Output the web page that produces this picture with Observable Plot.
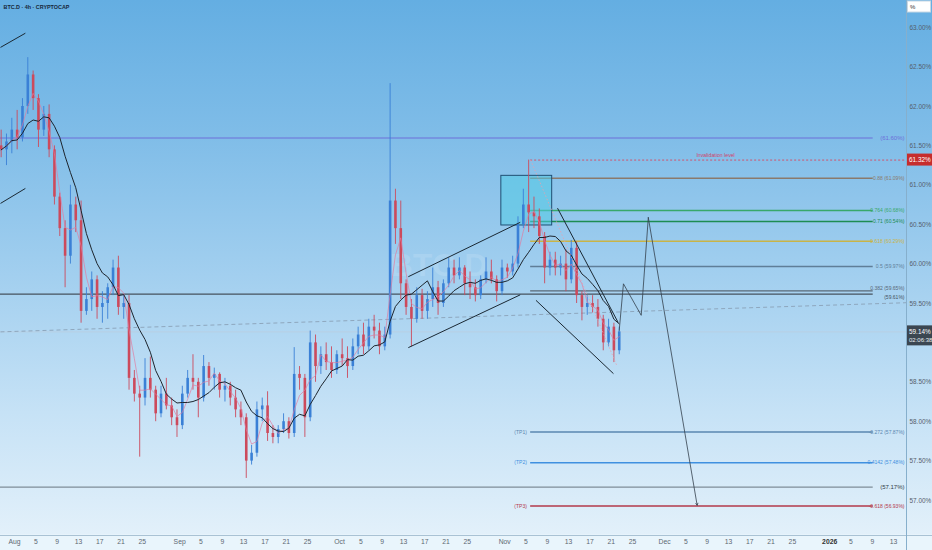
<!DOCTYPE html>
<html><head><meta charset="utf-8">
<script src="https://cdn.jsdelivr.net/npm/d3@7"></script>
<script src="https://cdn.jsdelivr.net/npm/@observablehq/plot@0.6"></script>
<style>
html,body{margin:0;padding:0;background:#e9f5fc;}
#chart{position:relative;width:932px;height:550px;overflow:hidden;}
svg{display:block;}
</style></head><body><div id="chart"></div>
<script>
// ---- Daily candles (BTC.D, %), Jul 29 2025 .. Nov 22 2025 ----
const firstDay = "2025-07-29T12:00:00Z";
const firstOpen = 61.50;
const closes = [61.45,61.55,61.70,
 61.60,62.00,62.40,62.10,61.70,61.90,61.45,60.85,60.45,60.10,60.75,60.55,59.40,59.55,59.80,59.45,59.50,59.70,59.95,59.45,59.50,58.55,58.35,58.30,58.55,58.40,58.10,58.35,58.20,58.05,57.95,
 58.35,58.55,58.50,58.30,58.70,58.55,58.60,58.40,58.45,58.30,58.15,58.05,57.50,57.60,58.15,58.20,57.85,57.80,57.90,58.00,57.85,58.60,58.55,58.05,59.00,58.70,58.85,58.75,58.65,58.85,
 58.80,58.70,58.95,59.10,58.95,59.20,59.15,58.95,59.10,60.80,60.45,59.75,59.45,59.30,59.60,59.40,59.55,59.70,59.50,59.75,59.95,59.85,59.95,59.75,59.70,59.60,59.80,59.90,59.80,59.65,59.95,
 59.90,60.00,60.50,60.75,60.65,60.60,60.35,59.95,60.05,59.95,60.00,59.80,60.20,59.60,59.45,59.50,59.45,59.30,59.00,59.20,58.90,59.14];
const highs = [61.70,61.65,61.85,
 61.95,62.10,62.62,62.45,62.15,62.00,62.02,61.50,60.90,60.55,61.00,60.85,60.80,59.70,59.90,59.85,59.65,59.75,60.05,60.10,59.60,59.60,58.65,58.45,58.80,58.82,58.45,58.45,58.55,58.30,58.15,
 58.45,58.65,58.85,58.55,58.84,58.75,58.68,58.62,58.55,58.50,58.40,58.25,58.10,57.70,58.25,58.30,58.38,57.95,57.95,58.10,58.05,58.94,58.70,58.60,59.15,59.10,58.95,59.00,58.95,58.90,
 59.05,58.95,59.05,59.20,59.25,59.30,59.35,59.25,59.20,62.29,60.95,60.80,59.80,59.55,59.70,59.68,59.65,59.95,59.78,59.80,60.08,60.05,60.08,59.98,59.90,59.80,59.85,60.08,60.05,59.85,60.05,
 60.00,60.10,60.60,60.95,61.32,60.85,60.70,60.40,60.15,60.15,60.10,60.18,60.30,60.28,59.65,59.60,59.60,59.55,59.35,59.30,59.25,59.20];
const lows = [61.35,61.25,61.40,
 61.45,61.55,61.90,61.95,61.48,61.62,61.35,60.75,60.35,59.70,60.00,60.40,59.25,59.35,59.40,59.30,59.25,59.30,59.60,59.35,59.30,58.40,58.25,57.55,58.20,58.30,58.00,58.05,58.15,57.95,57.80,
 57.90,58.30,58.40,58.05,58.25,58.45,58.40,58.30,58.25,58.20,58.05,57.95,57.28,57.45,57.55,58.00,57.75,57.72,57.72,57.85,57.78,57.80,58.40,57.80,58.00,58.50,58.60,58.65,58.55,58.60,
 58.70,58.55,58.65,58.85,58.85,58.90,59.05,58.85,58.90,59.05,60.25,59.55,59.35,58.95,59.25,59.30,59.30,59.45,59.35,59.45,59.70,59.75,59.80,59.60,59.55,59.52,59.55,59.75,59.75,59.52,59.60,
 59.82,59.85,59.95,60.45,60.40,60.45,60.25,59.75,59.85,59.85,59.85,59.65,59.75,59.50,59.28,59.35,59.38,59.20,58.90,58.95,58.75,58.85];

// ---- Axes ----
const xDomain = ["2025-07-29T09:00:00Z", "2026-01-15T10:00:00Z"];
const yDomain = [56.556, 63.345];
const yTicks = [57, 57.5, 58, 58.5, 59.5, 60, 60.5, 61, 61.5, 62, 62.5, 63];
const tickMonths = ["2025-08-01","2025-09-01","2025-10-01","2025-11-01","2025-12-01","2026-01-01"];
const tickDays = [5, 9, 13, 17, 21, 25];

// ---- Drawings ----
const fullLines = [
  {v: 61.60, label: "(61.60%)", color: "#6d6fd9", text: "#6d6fd9", w: 1, dy: 0},
  {v: 59.62, label: "(59.61%)", color: "#46525e", text: "#46525e", w: 1.2, dy: 3},
  {v: 57.17, label: "(57.17%)", color: "#7f8d98", text: "#323c46", w: 1.2, dy: 0}
];
const fibLevels = [
  {v: 61.09, label: "0.88 (61.09%)", color: "#8a7a6c", tp: "", dy: 0},
  {v: 60.68, label: "0.764 (60.68%)", color: "#38a86a", tp: "", dy: 0},
  {v: 60.54, label: "0.71 (60.54%)", color: "#1d8c52", tp: "", dy: 0},
  {v: 60.29, label: "0.618 (60.29%)", color: "#c9b447", tp: "", dy: 0},
  {v: 59.97, label: "0.5 (59.97%)", color: "#5f7e98", tp: "", dy: 0},
  {v: 59.66, label: "0.382 (59.65%)", color: "#596877", tp: "", dy: -3},
  {v: 57.87, label: "-0.272 (57.87%)", color: "#5a87b0", tp: "(TP1)", dy: 0},
  {v: 57.48, label: "-0.4142 (57.48%)", color: "#3f90e0", tp: "(TP2)", dy: 0},
  {v: 56.93, label: "-0.618 (56.93%)", color: "#b3394a", tp: "(TP3)", dy: 0}
];
const fibStart = "2025-11-05T21:00:00Z";
const fibEnd = "2026-01-09T04:00:00Z";
const labelAt = "2026-01-15T01:00:00Z";
const tpAt = "2025-11-05T04:00:00Z";
const invalidation = {v: 61.32, label: "Invalidation level", at: "2025-12-10T14:00:00Z"};
const blackSegments = [
  {x1: "2025-07-29T09:00:00Z", y1: 62.75, x2: "2025-08-03T01:00:00Z", y2: 62.93},
  {x1: "2025-07-29T09:00:00Z", y1: 60.77, x2: "2025-08-03T01:00:00Z", y2: 60.96},
  {x1: "2025-10-13T22:00:00Z", y1: 59.84, x2: "2025-11-03T22:00:00Z", y2: 60.53},
  {x1: "2025-10-13T22:00:00Z", y1: 58.94, x2: "2025-11-03T22:00:00Z", y2: 59.61},
  {x1: "2025-11-10T22:00:00Z", y1: 60.71, x2: "2025-11-22T07:00:00Z", y2: 59.26},
  {x1: "2025-11-06T21:00:00Z", y1: 59.54, x2: "2025-11-21T10:00:00Z", y2: 58.61}
];
const dottedDiag = [{x1: "2025-11-05T21:00:00Z", y1: 61.32, x2: "2025-11-22T03:00:00Z", y2: 58.70}];
const trendDashed = [{x1: "2025-07-29T09:00:00Z", y1: 59.14, x2: "2026-01-15T10:00:00Z", y2: 59.51}];
const projection = [
  {t: "2025-11-22T12:00:00Z", v: 59.16},
  {t: "2025-11-23T07:00:00Z", v: 59.75},
  {t: "2025-11-26T15:00:00Z", v: 59.35},
  {t: "2025-11-27T23:00:00Z", v: 60.59}
];
const projectionArrow = [{x1: "2025-11-27T23:00:00Z", y1: 60.59, x2: "2025-12-07T03:00:00Z", y2: 56.94}];
const zoneBox = [{x1: "2025-10-31T09:00:00Z", x2: "2025-11-09T22:00:00Z", y1: 60.49, y2: 61.12}];
const lastPrice = 59.14;
const countdown = "02:06:38";

// ---- Build ----
const FONT = "Liberation Sans, Arial, sans-serif";
const UP = "#3a80d6", DOWN = "#cc4a5c";
const t0 = new Date(firstDay).getTime();
const candles = closes.map((c, i) => ({
  date: new Date(t0 + i * 864e5),
  open: i ? closes[i - 1] : firstOpen,
  high: highs[i], low: lows[i], close: c
}));
const D = s => new Date(s);
const xd = xDomain.map(D);
const ticks = [];
for (const m of tickMonths) {
  const s = D(m + "T00:00:00Z");
  ticks.push(s);
  for (const d of tickDays) {
    const t = new Date(Date.UTC(s.getUTCFullYear(), s.getUTCMonth(), d));
    if (t < xd[1]) ticks.push(t);
  }
}
const fmtTick = d => d.getUTCDate() === 1 ? (d.getUTCMonth() === 0 ? String(d.getUTCFullYear()) : d3.utcFormat("%b")(d)) : String(d.getUTCDate());
const seg = arr => arr.map(s => ({...s, x1: D(s.x1), x2: D(s.x2)}));
const colorOf = d => d.close >= d.open ? UP : DOWN;

const chart = Plot.plot({
  width: 932, height: 550,
  marginLeft: 0, marginRight: 26, marginTop: 0, marginBottom: 15,
  x: {type: "utc", domain: xd},
  y: {domain: yDomain},
  style: {
    fontFamily: FONT,
    background: "linear-gradient(to bottom, #64aee2 0%, #80bde8 25%, #a2cfef 50%, #c6e2f6 75%, #e2f0fa 97%, #e9f5fc 97.3%, #e9f5fc 100%)",
    overflow: "visible"
  },
  marks: [
    Plot.text(["BTC.D"], {frameAnchor: "middle", dx: -15, dy: -2, fontSize: 32, fill: "#ffffff", fillOpacity: 0.13, fontWeight: "bold"}),
    Plot.axisX({ticks, tickFormat: fmtTick, tickSize: 0, tickPadding: 4, fontSize: 6.8, color: "#5d6873"}),
    Plot.axisY({anchor: "right", ticks: yTicks, tickFormat: d => d.toFixed(2) + "%", tickSize: 0, tickPadding: 3, fontSize: 6.4, color: "#55606b"}),
    // horizontal levels
    Plot.ruleY([lastPrice], {stroke: "#b9cfdf", strokeWidth: 0.8}),
    Plot.ruleY(fullLines, {y: "v", x1: () => xd[0], x2: () => D(fibEnd), stroke: d => d.color, strokeWidth: d => d.w}),
    Plot.link(seg(trendDashed), {x1: "x1", y1: "y1", x2: "x2", y2: "y2", stroke: "#8aa2b8", strokeWidth: 0.9, strokeDasharray: "4,3"}),
    Plot.ruleY([invalidation], {y: "v", x1: () => D(fibStart), x2: () => xd[1], stroke: "#d9455f", strokeWidth: 0.9, strokeDasharray: "2,2"}),
    Plot.ruleY(fibLevels, {y: "v", x1: () => D(fibStart), x2: () => D(fibEnd), stroke: d => d.color, strokeWidth: 1.4}),
    // zone box
    Plot.rect(seg(zoneBox), {x1: "x1", x2: "x2", y1: "y1", y2: "y2", fill: "#52cbe4", fillOpacity: 0.55, stroke: "#1f4f73", strokeWidth: 1}),
    // candles
    Plot.ruleX(candles, {x: "date", y1: "low", y2: "high", stroke: colorOf, strokeWidth: 0.9}),
    Plot.ruleX(candles, {x: "date", y1: "open", y2: "close", stroke: colorOf, strokeWidth: 2.6}),
    // moving averages
    Plot.lineY(candles, Plot.windowY({k: 3, anchor: "end"}, {x: "date", y: "close", stroke: "#e27a9e", strokeWidth: 0.8, strokeOpacity: 0.85})),
    Plot.lineY(candles, Plot.windowY({k: 8, anchor: "end"}, {x: "date", y: "close", stroke: "#1d252e", strokeWidth: 1})),
    // drawings
    Plot.link(seg(dottedDiag), {x1: "x1", y1: "y1", x2: "x2", y2: "y2", stroke: "#e8a0ac", strokeWidth: 0.8, strokeDasharray: "1.5,2"}),
    Plot.link(seg(blackSegments), {x1: "x1", y1: "y1", x2: "x2", y2: "y2", stroke: "#1a2833", strokeWidth: 1}),
    Plot.line(projection, {x: d => D(d.t), y: "v", stroke: "#34404c", strokeWidth: 0.8}),
    Plot.arrow(seg(projectionArrow), {x1: "x1", y1: "y1", x2: "x2", y2: "y2", stroke: "#34404c", strokeWidth: 0.8, headLength: 4}),
    // labels
    Plot.text(fullLines.filter(d => !d.dy), {x: () => D(labelAt), y: "v", text: "label", textAnchor: "end", fill: d => d.text, fontSize: 6}),
    Plot.text(fullLines.filter(d => d.dy), {x: () => D(labelAt), y: "v", text: "label", textAnchor: "end", dy: 3, fill: d => d.text, fontSize: 5}),
    Plot.text(fibLevels.filter(d => !d.dy), {x: () => D(labelAt), y: "v", text: "label", textAnchor: "end", fill: d => d.color, fontSize: 5}),
    Plot.text(fibLevels.filter(d => d.dy), {x: () => D(labelAt), y: "v", text: "label", textAnchor: "end", dy: -3, fill: d => d.color, fontSize: 5}),
    Plot.text(fibLevels.filter(d => d.tp), {x: () => D(tpAt), y: "v", text: "tp", textAnchor: "end", fill: d => d.color, fontSize: 5}),
    Plot.text([invalidation], {x: () => D(invalidation.at), y: "v", text: "label", dy: -5, fill: "#d33f6a", fontSize: 5.2}),
    Plot.text(["BTC.D · 4h · CRYPTOCAP"], {frameAnchor: "top-left", dx: 3, dy: 5, fontSize: 5.4, fill: "#16283a", fontWeight: "bold"})
  ]
});

document.getElementById("chart").appendChild(chart);

// axis-panel decorations using the plot's own scales
const svg = d3.select(chart);
const Y = chart.scale("y"), X = chart.scale("x");
const xr = X.range[1];
svg.selectAll("text").filter(function(){ return this.textContent === "2026"; }).attr("font-weight", "bold").attr("fill", "#333");
const deco = svg.append("g").attr("font-family", FONT).attr("text-anchor", "start");
deco.append("line").attr("x1", 0).attr("x2", 932).attr("y1", Y.range[0] + 0.5).attr("y2", Y.range[0] + 0.5).attr("stroke", "#a9c2d4");
deco.append("line").attr("x1", xr + 0.5).attr("x2", xr + 0.5).attr("y1", 0).attr("y2", 550).attr("stroke", "#86afcc");
const yi = Y.apply(invalidation.v);
deco.append("rect").attr("x", xr + 1).attr("y", yi - 6).attr("width", 25).attr("height", 12).attr("fill", "#c62d2d");
deco.append("text").attr("x", xr + 3).attr("y", yi).attr("dy", "0.35em").attr("font-size", 6.4).attr("fill", "#fff").text(invalidation.v.toFixed(2) + "%");
const yc = Y.apply(lastPrice);
deco.append("rect").attr("x", xr + 1).attr("y", yc - 6).attr("width", 25).attr("height", 20).attr("fill", "#3b4651");
deco.append("text").attr("x", xr + 3).attr("y", yc).attr("dy", "0.35em").attr("font-size", 6.4).attr("fill", "#fff").text(lastPrice.toFixed(2) + "%");
deco.append("text").attr("x", xr + 3).attr("y", yc + 8.5).attr("dy", "0.35em").attr("font-size", 6).attr("fill", "#e8eef3").text(countdown);
deco.append("rect").attr("x", xr + 1.5).attr("y", 1).attr("width", 23).attr("height", 11).attr("fill", "#ffffff").attr("stroke", "#c8d8e4");
deco.append("text").attr("x", xr + 4).attr("y", 6.5).attr("dy", "0.35em").attr("font-size", 6).attr("fill", "#333").text("%");
</script>
</body></html>
